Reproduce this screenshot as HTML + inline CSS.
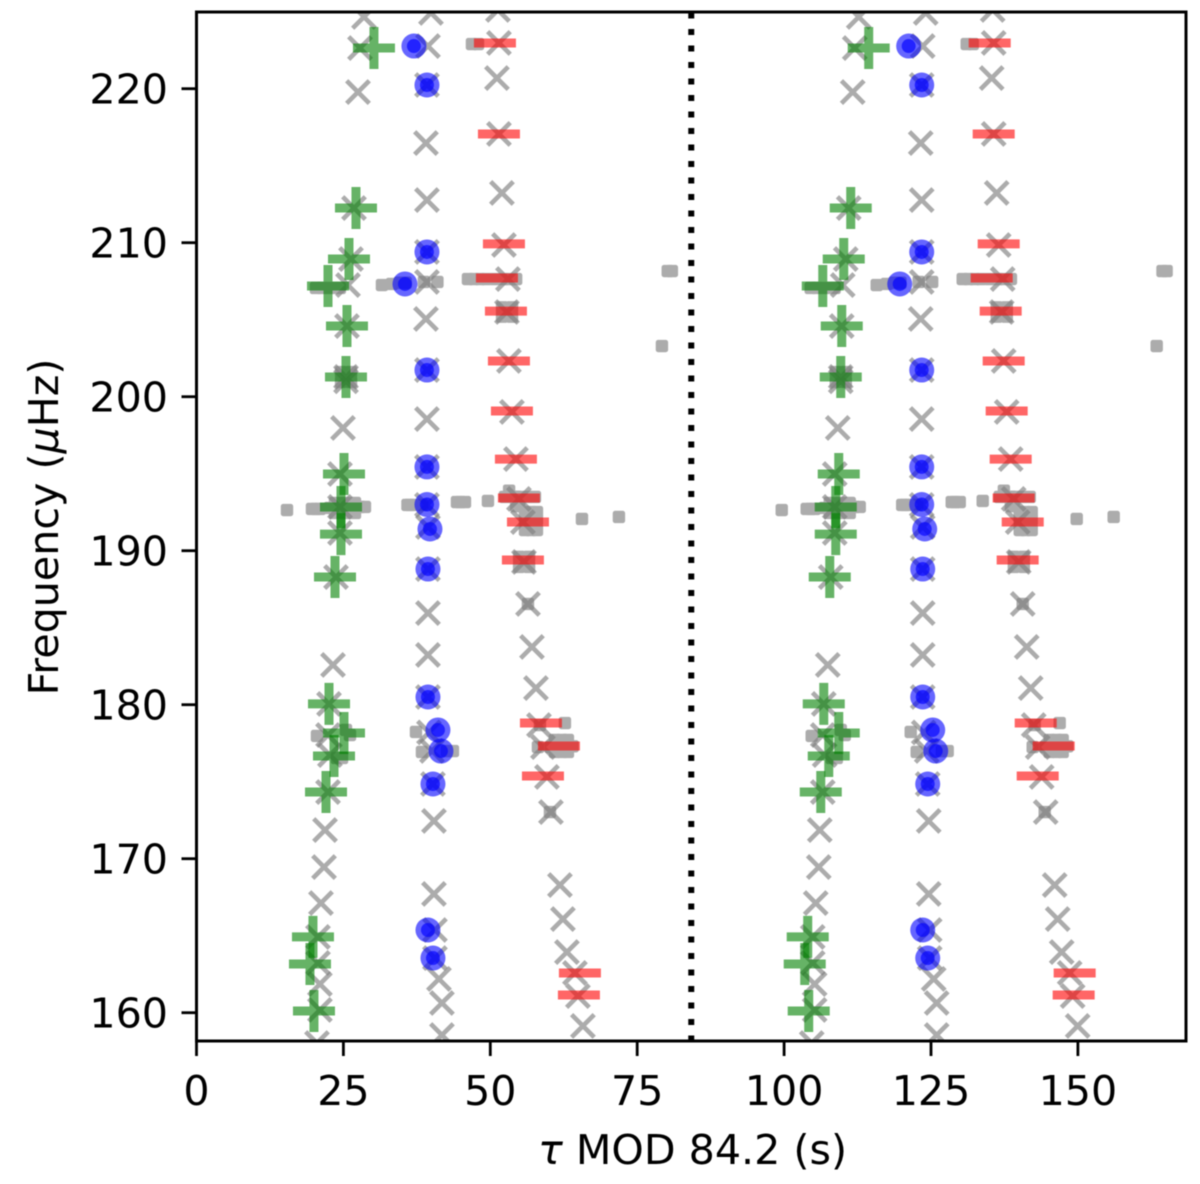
<!DOCTYPE html>
<html>
<head>
<meta charset="utf-8">
<style>
html,body{margin:0;padding:0;background:#fff;}
svg{display:block;filter:blur(0.6px);}
text{font-family:"DejaVu Sans",sans-serif;font-size:41.2px;fill:#000;}
</style>
</head>
<body>
<svg id="chart" xmlns="http://www.w3.org/2000/svg" width="1200" height="1184" viewBox="0 0 1200 1184">
<defs><clipPath id="plot-clip"><rect x="196.5" y="12" width="989.5" height="1029"/></clipPath></defs>
<rect x="196.5" y="12" width="989.5" height="1029" fill="#fff"/>
<g id="marks" clip-path="url(#plot-clip)"></g>
<rect x="196.5" y="12" width="989.5" height="1029" fill="none" stroke="#000" stroke-width="3"/>
<g id="ticks"></g>
<text x="692.5" y="1164" text-anchor="middle"><tspan font-style="italic">τ</tspan> MOD 84.2 (s)</text>
<text transform="translate(58,527) rotate(-90)" text-anchor="middle">Frequency (<tspan font-style="italic">μ</tspan>Hz)</text>
</svg>
<script>
const period = 84.2;
const xTicks = [0, 25, 50, 75, 100, 125, 150];
const yTicks = [160, 170, 180, 190, 200, 210, 220];

const modelTau = [28.5,27.82,27.48,26.8,26.29,25.78,25.61,25.44,25.44,24.93,24.42,24.42,24.42,23.74,23.23,22.55,22.38,22.7,22.38,21.87,21.7,21.18,20.67,20.67,21,21,20.5,
39.9,39.39,39.22,39.05,39.22,39.22,39.22,39.05,39.22,39.22,39.22,39.22,39.39,39.39,39.39,39.39,39.39,39.56,40.07,40.24,40.41,40.41,40.58,40.58,41.26,41.77,41.77,
51.3,51.47,51.13,51.47,51.98,52.32,53,52.83,53.17,53.68,54.36,54.87,55.55,55.73,56.41,57.09,57.77,58.28,58.96,59.64,60.32,61.85,62.36,63.04,64.4,64.91,65.76];
const modelFreq = [224.66,222.64,219.78,212.25,208.94,207.25,204.59,201.28,201,197.97,194.98,192.84,191.15,188.29,182.58,180.05,178.03,176.73,174.33,171.86,169.46,167.12,164.92,163.23,161.86,160.18,158.03,
224.92,222.77,220.24,216.47,212.77,209.4,207.45,205.05,201.73,198.55,195.44,192.97,191.54,188.81,185.95,183.23,180.5,178.2,177,174.85,172.45,167.71,165.37,163.55,162.19,160.63,158.55,
225.11,222.97,220.69,217.06,213.23,209.85,207.64,205.5,202.32,199.01,195.95,193.36,191.86,189.27,186.54,183.75,181.08,178.68,177.25,175.31,173.03,168.29,166.08,163.94,162.58,161.08,159.14];

const obsTau = [46.88,47.9,80.2,80.9,79.21,21.35,20.33,22.72,24.4,31.56,33.26,34.6,35.6,38.7,41,46.2,47.2,48.24,49.3,50.79,52.2,53.34,54.4,52,53.7,52,53.7,15.4,19.65,20.33,21,22.72,24.42,26.12,27.82,28.67,23.57,25.27,26.97,23.57,25.27,26.97,36.33,37.18,35.9,38.4,44.33,44.9,45.69,49.6,52.49,53.8,55.04,56.3,57.6,55.9,57.94,55.9,57.94,57.94,55.9,56.9,56.9,54.9,54.4,54.4,53.2,65.6,71.89,54.9,56.6,54.9,56.6,56.41,24.6,26.3,24.6,26.3,20.5,26.12,25.44,24.77,23.9,37.35,38.37,42.63,43.64,62.7,58.45,60.3,62.19,63.21,62.19,63.21,61.4,64,58.11,60.15,61,61,61.9,63.2];
const obsFreq = [222.9,222.9,208.16,208.16,203.29,207.06,207.06,207.06,207.06,207.25,207.32,207.4,207.4,207.45,207.45,207.64,207.64,207.64,207.64,207.64,207.64,207.64,207.64,205.8,205.8,205.2,205.2,192.64,192.71,192.71,192.71,192.78,192.78,192.84,192.84,192.84,193.1,193.1,193.1,192.45,192.45,192.45,192.97,192.97,192.97,192.97,193.16,193.16,193.16,193.23,193.49,193.49,193.49,193.49,193.49,192.51,192.51,191.34,191.34,192,192,192.51,191.34,192.9,192.9,193.5,193.9,192.06,192.19,189.6,189.6,188.95,188.95,186.54,201.6,201.6,200.96,200.96,177.97,178.03,178.36,176.54,176.54,178.23,176.93,176.99,176.99,178.81,178.68,177.25,177.71,177.71,176.93,176.93,177.3,177.3,177.25,173.03,177.71,176.93,177.3,177.3];

const greenTau = [30.2,27.14,25.95,22.38,25.61,25.44,25.1,24.59,24.59,23.57,22.55,25.1,23.4,22.04,19.82,19.31,19.99];
const greenFreq = [222.64,212.25,208.94,207.19,204.59,201.28,194.98,192.84,191.08,188.29,180.05,178.16,176.67,174.33,164.92,163.16,160.11];

const blueTau = [37,39.22,39.22,35.48,39.22,39.22,39.22,39.73,39.39,39.39,41.09,41.6,40.24,39.39,40.24];
const blueFreq = [222.77,220.24,209.4,207.32,201.73,195.44,193,191.41,188.81,180.5,178.36,176.99,174.85,165.37,163.55];

const redTau = [50.79,51.47,52.32,51.13,52.66,53.17,53.68,54.36,54.87,56.41,55.55,58.62,61.68,58.96,65.25,65.08];
const redFreq = [222.97,217.06,209.92,207.71,205.56,202.32,199.07,195.95,193.42,191.86,189.4,178.81,177.32,175.37,162.58,161.15];

const NS = 'http://www.w3.org/2000/svg';
const xScale = t => 196.5 + t * 5.876;
const yScale = f => 1012.7 - (f - 160) * 15.4;
const marks = document.getElementById('marks');
const ticks = document.getElementById('ticks');
function make(tag, attrs, parent) {
  const el = document.createElementNS(NS, tag);
  for (const k in attrs) el.setAttribute(k, attrs[k]);
  parent.appendChild(el);
  return el;
}
const offsets = [0, period];

const obsGroup = make('g', {opacity: 0.65, fill: '#808080'}, marks);


offsets.forEach(off => obsTau.forEach((t, i) => {
  const el = make('rect', {x: xScale(t + off) - 6.2, y: yScale(obsFreq[i]) - 6.2, width: 12.4, height: 12.4, rx: 2.5}, obsGroup);
  
  
}));

offsets.forEach(off => modelTau.forEach((t, i) => {
  const x = xScale(t + off), y = yScale(modelFreq[i]), r = 11.3;
  const el = make('path', {d: `M${x-r} ${y-r}L${x+r} ${y+r}M${x-r} ${y+r}L${x+r} ${y-r}`, fill: 'none', stroke: '#808080', 'stroke-width': 4.6, 'stroke-opacity': 0.65}, marks);
  
  
}));

offsets.forEach(off => greenTau.forEach((t, i) => {
  const x = xScale(t + off), y = yScale(greenFreq[i]), r = 21;
  const el = make('path', {d: `M${x-r} ${y}L${x+r} ${y}M${x} ${y-r}L${x} ${y+r}`, fill: 'none', stroke: '#008000', 'stroke-width': 9, 'stroke-opacity': 0.6}, marks);
  
  
}));

offsets.forEach(off => blueTau.forEach((t, i) => {
  const x = xScale(t + off), y = yScale(blueFreq[i]);
  const outer = make('circle', {cx: x, cy: y, r: 12.5, fill: '#0000ff', 'fill-opacity': 0.6}, marks);
  
  
  const inner = make('circle', {cx: x, cy: y, r: 7, fill: '#0000ff', 'fill-opacity': 0.65}, marks);
  
  
}));

offsets.forEach(off => redTau.forEach((t, i) => {
  const x = xScale(t + off), y = yScale(redFreq[i]), r = 21;
  const el = make('path', {d: `M${x-r} ${y}L${x+r} ${y}`, fill: 'none', stroke: '#ff0000', 'stroke-width': 9, 'stroke-opacity': 0.6}, marks);
  
  
}));

const divider = make('line', {x1: xScale(period), x2: xScale(period), y1: 12.5, y2: 1041, stroke: '#000', 'stroke-width': 6, 'stroke-dasharray': '6 10.5'}, marks);



xTicks.forEach(v => {
  const x = xScale(v);
  const tick = make('line', {x1: x, x2: x, y1: 1041, y2: 1056, stroke: '#000', 'stroke-width': 2.8}, ticks);
  
  
  const label = make('text', {x: x, y: 1105, 'text-anchor': 'middle'}, ticks);
  
  
  label.textContent = v;
});
yTicks.forEach(v => {
  const y = yScale(v);
  const tick = make('line', {x1: 196.5, x2: 181.5, y1: y, y2: y, stroke: '#000', 'stroke-width': 2.8}, ticks);
  
  
  const label = make('text', {x: 168, y: y + 15, 'text-anchor': 'end'}, ticks);
  
  
  label.textContent = v;
});
</script>
</body>
</html>
